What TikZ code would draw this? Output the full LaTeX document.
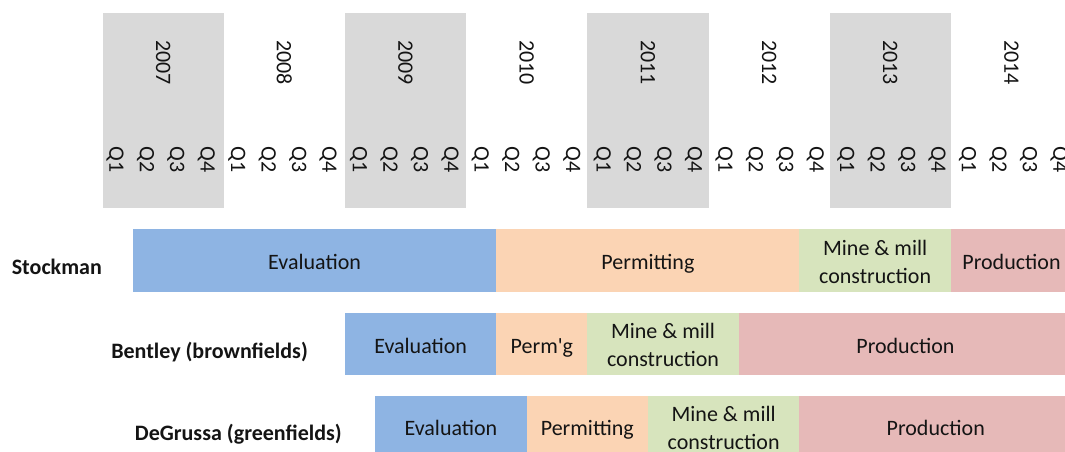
\documentclass[tikz,border=0pt]{standalone}
\usepackage{fontspec}
\setmainfont{Carlito}[Ligatures=TeXOff]
\definecolor{evalc}{HTML}{8EB4E3}
\definecolor{permc}{HTML}{FBD4B4}
\definecolor{minec}{HTML}{D7E4BD}
\definecolor{prodc}{HTML}{E6B9B8}
\definecolor{yearc}{HTML}{D9D9D9}
\definecolor{txtc}{HTML}{141414}
\newcommand{\qx}[1]{102.5+30.3*#1}
\begin{document}
\begin{tikzpicture}[x=1pt,y=-1pt,
  lab/.style={inner sep=0pt, text=txtc, font=\fontsize{22}{28}\selectfont},
  vlab/.style={lab, rotate=-90},
  rowlab/.style={inner sep=0pt, text=txtc, font=\fontsize{22}{28}\selectfont\bfseries, anchor=base east},
  one/.style={lab, anchor=base},
  two/.style={lab, align=center, anchor=center}]
\clip (0,0) rectangle (1065,452);
\fill[white] (0,0) rectangle (1065,452);
% year shading
\foreach \i in {0,2,4,6}
  \fill[yearc] ({102.5+121.2*\i},13) rectangle ({102.5+121.2*(\i+1)},208);
% year labels
\foreach \y [count=\i from 0] in {2007,...,2014}
  \node[vlab] (y\y) at ({102.5+121.2*(\i+0.5)},62.5) {\y};
% quarter labels
\foreach \k in {0,...,31}{
  \pgfmathtruncatemacro{\qq}{mod(\k,4)+1}
  \node[vlab] (q\k) at ({115+30.45*\k},159.5) {Q\qq};
}
% row labels
\node[rowlab] (stock) at (102,274) {Stockman};
\node[rowlab] (bent) at (308,358) {Bentley (brownfields)};
\node[rowlab] (degr) at (342,440) {DeGrussa (greenfields)};
% Stockman bars
\def\ta{229.3}\def\tb{291.7}
\fill[evalc] ({\qx{1}},\ta) rectangle ({\qx{13}},\tb);
\fill[permc] ({\qx{13}},\ta) rectangle ({\qx{23}},\tb);
\fill[minec] ({\qx{23}},\ta) rectangle ({\qx{28}},\tb);
\fill[prodc] ({\qx{28}},\ta) rectangle ({\qx{32}},\tb);
\node[one] (s1) at ({\qx{7}},269.5) {Evaluation};
\node[one] (s2) at ({\qx{18}},269.5) {Permitting};
\node[two] (s3) at ({\qx{25.5}},261.5) {Mine \& mill\\construction};
\node[one] (s4) at ({\qx{30}},269.5) {Production};
% Bentley bars
\def\ta{312.7}\def\tb{375}
\fill[evalc] ({\qx{8}},\ta) rectangle ({\qx{13}},\tb);
\fill[permc] ({\qx{13}},\ta) rectangle ({\qx{16}},\tb);
\fill[minec] ({\qx{16}},\ta) rectangle ({\qx{21}},\tb);
\fill[prodc] ({\qx{21}},\ta) rectangle ({\qx{32}},\tb);
\node[one] (b1) at ({\qx{10.5}},353) {Evaluation};
\node[one] (b2) at ({\qx{14.5}},353) {Perm'g};
\node[two] (b3) at ({\qx{18.5}},345) {Mine \& mill\\construction};
\node[one] (b4) at ({\qx{26.5}},353) {Production};
% DeGrussa bars
\def\ta{396}\def\tb{458.4}
\fill[evalc] ({\qx{9}},\ta) rectangle ({\qx{14}},\tb);
\fill[permc] ({\qx{14}},\ta) rectangle ({\qx{18}},\tb);
\fill[minec] ({\qx{18}},\ta) rectangle ({\qx{23}},\tb);
\fill[prodc] ({\qx{23}},\ta) rectangle ({\qx{32}},\tb);
\node[one] (d1) at ({\qx{11.5}},435) {Evaluation};
\node[one] (d2) at ({\qx{16}},435) {Permitting};
\node[two] (d3) at ({\qx{20.5}},428) {Mine \& mill\\construction};
\node[one] (d4) at ({\qx{27.5}},435) {Production};
\end{tikzpicture}
\end{document}
